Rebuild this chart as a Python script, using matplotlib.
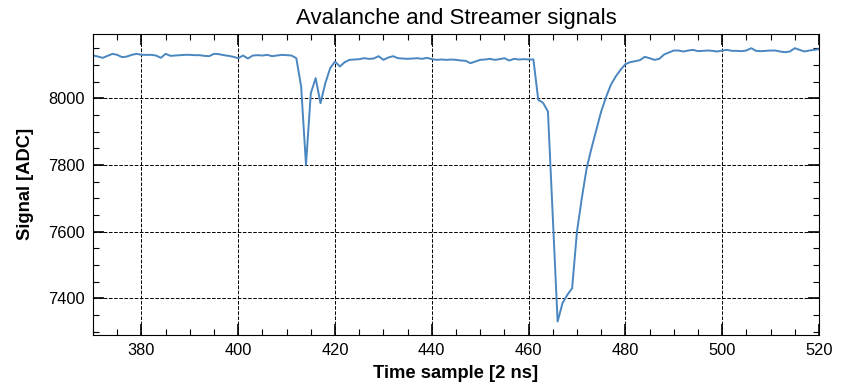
import numpy as np
import matplotlib
matplotlib.use("Agg")
import matplotlib.pyplot as plt
from matplotlib.ticker import MultipleLocator

plt.rcParams['font.family'] = ['Liberation Sans', 'DejaVu Sans']

# time samples (2 ns each) and ADC signal
time_start = 370
signal = [
    8128, 8125, 8121, 8127, 8133, 8130, 8123, 8125, 8130, 8133,   # 370-379
    8130, 8130, 8130, 8128, 8121, 8133, 8127, 8128, 8129, 8130,   # 380-389
    8130, 8129, 8129, 8127, 8126, 8133, 8132, 8129, 8127, 8124,   # 390-399
    8120, 8128, 8119, 8128, 8129, 8128, 8130, 8126, 8128, 8130,   # 400-409
    8129, 8128, 8120, 8035, 7800, 8015, 8060, 7985, 8045, 8090,   # 410-419
    8110, 8095, 8108, 8115, 8116, 8117, 8120, 8118, 8119, 8126,   # 420-429
    8115, 8122, 8126, 8120, 8119, 8118, 8119, 8120, 8118, 8121,   # 430-439
    8117, 8115, 8116, 8115, 8116, 8115, 8113, 8112, 8105, 8110,   # 440-449
    8115, 8116, 8118, 8115, 8117, 8120, 8113, 8118, 8116, 8117,   # 450-459
    8116, 8116, 7995, 7986, 7960, 7645, 7330, 7385, 7410, 7430,   # 460-469
    7600, 7700, 7790, 7850, 7905, 7960, 8003, 8040, 8065, 8085,   # 470-479
    8102, 8108, 8111, 8114, 8124, 8120, 8115, 8118, 8131, 8137,   # 480-489
    8143, 8143, 8140, 8143, 8145, 8141, 8142, 8143, 8142, 8140,   # 490-499
    8143, 8145, 8142, 8142, 8141, 8143, 8150, 8142, 8141, 8142,   # 500-509
    8143, 8143, 8140, 8138, 8140, 8150, 8145, 8140, 8143, 8145,   # 510-519
    8147,                                                         # 520
]
time = np.arange(time_start, time_start + len(signal))

fig = plt.figure(figsize=(8.46, 3.89), dpi=100)
ax = fig.add_axes([0.110, 0.139, 0.858, 0.774])

ax.plot(time, signal, color='#4a86c0', lw=1.4)

ax.set_xlim(370, 520)
ax.set_ylim(7290, 8193)
ax.xaxis.set_major_locator(MultipleLocator(20))
ax.xaxis.set_minor_locator(MultipleLocator(5))
ax.yaxis.set_major_locator(MultipleLocator(200))
ax.yaxis.set_minor_locator(MultipleLocator(50))
ax.tick_params(which='both', direction='in', top=True, right=True, labelsize=11.8)
ax.tick_params(which='major', length=8, width=1.2, pad=6)
ax.tick_params(which='minor', length=4, width=0.8)
ax.grid(True, which='major', color='black', ls='--', lw=0.7)

ax.set_title('Avalanche and Streamer signals', fontsize=16, pad=7)
ax.set_xlabel('Time sample [2 ns]', fontsize=13.2, fontweight='bold', labelpad=5)
ax.set_ylabel('Signal [ADC]', fontsize=13.2, fontweight='bold', labelpad=10)

fig.savefig('out.png', dpi=100)
